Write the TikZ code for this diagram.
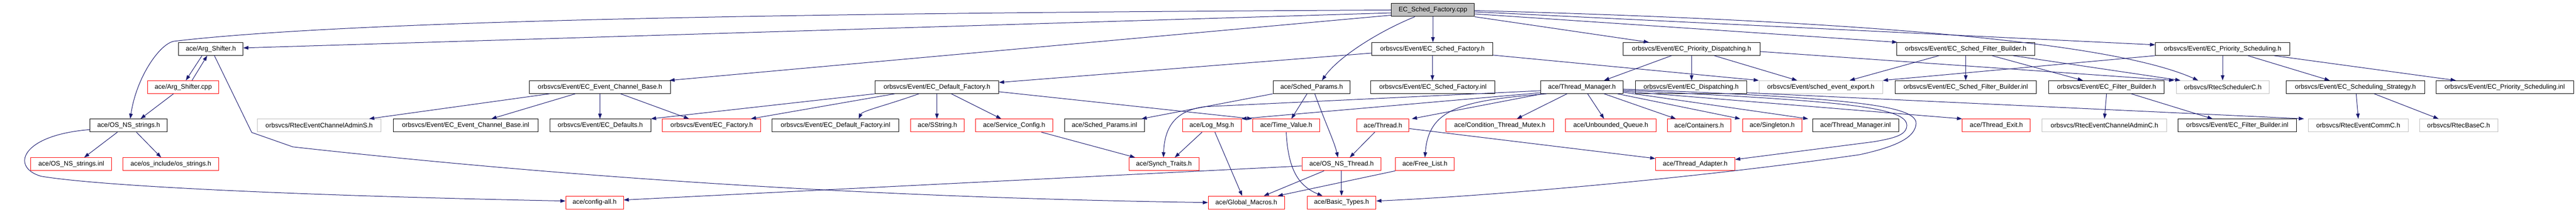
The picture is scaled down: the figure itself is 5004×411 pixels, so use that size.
\documentclass[tikz,border=0pt]{standalone}
\usepackage{fontspec}
\setmainfont{Liberation Sans}
\usetikzlibrary{arrows.meta}
\definecolor{edgeblue}{HTML}{191970}
\definecolor{extgray}{HTML}{BFBFBF}

\begin{document}
\begin{tikzpicture}
  [x=1pt, y=-1pt, font=\fontsize{12.7pt}{15pt}\selectfont,
  file/.style={rectangle, draw, line width=1pt, inner sep=0pt, minimum height=25pt},
  doc/.style={file},
  nodoc/.style={file, draw=red},
  ext/.style={file, draw=extgray},
  root/.style={file, fill=extgray},
  dep/.style={draw=edgeblue, line width=1pt, -{Triangle[length=10pt,width=7pt]}}]
  \useasboundingbox (0,0) rectangle (5004,411);

  \node[root, minimum width=161pt] (cpp) at (2783.5,19.5) {EC\_Sched\_Factory.cpp};

  \node[doc, minimum width=125pt] (argsh) at (409.5,95) {ace/Arg\_Shifter.h};
  \node[doc, minimum width=235pt] (schedfac) at (2782.5,95) {orbsvcs/Event/EC\_Sched\_Factory.h};
  \node[doc, minimum width=266pt] (priodisp) at (3286,95) {orbsvcs/Event/EC\_Priority\_Dispatching.h};
  \node[doc, minimum width=269pt] (schedfb) at (3818.5,95) {orbsvcs/Event/EC\_Sched\_Filter\_Builder.h};
  \node[doc, minimum width=261pt] (priosched) at (4317.5,95) {orbsvcs/Event/EC\_Priority\_Scheduling.h};

  \node[nodoc, minimum width=138pt] (argshcpp) at (356,169) {ace/Arg\_Shifter.cpp};
  \node[doc, minimum width=275pt] (ecbase) at (1165.5,169) {orbsvcs/Event/EC\_Event\_Channel\_Base.h};
  \node[doc, minimum width=240pt] (deffac) at (1820,169) {orbsvcs/Event/EC\_Default\_Factory.h};
  \node[doc, minimum width=150pt] (schedpar) at (2548,169) {ace/Sched\_Params.h};
  \node[doc, minimum width=241pt] (schedfacinl) at (2783.5,169) {orbsvcs/Event/EC\_Sched\_Factory.inl};
  \node[doc, minimum width=160pt] (thrmgr) at (3073,169) {ace/Thread\_Manager.h};
  \node[doc, minimum width=216pt] (ecdisp) at (3285,169) {orbsvcs/Event/EC\_Dispatching.h};
  \node[ext, minimum width=240pt] (schedexp) at (3537,169) {orbsvcs/Event/sched\_event\_export.h};
  \node[doc, minimum width=275pt] (schedfbinl) at (3818.5,169) {orbsvcs/Event/EC\_Sched\_Filter\_Builder.inl};
  \node[doc, minimum width=224pt] (filterb) at (4092,169) {orbsvcs/Event/EC\_Filter\_Builder.h};
  \node[ext, minimum width=180pt] (schedc) at (4318,169) {orbsvcs/RtecSchedulerC.h};
  \node[doc, minimum width=269pt] (strategy) at (4575.5,169) {orbsvcs/Event/EC\_Scheduling\_Strategy.h};
  \node[doc, minimum width=267pt] (priosinl) at (4865.5,169) {orbsvcs/Event/EC\_Priority\_Scheduling.inl};

  \node[doc, minimum width=150pt] (osstr) at (250,243.5) {ace/OS\_NS\_strings.h};
  \node[ext, minimum width=240pt] (admins) at (620,243.5) {orbsvcs/RtecEventChannelAdminS.h};
  \node[doc, minimum width=281pt] (ecbaseinl) at (904.5,243.5) {orbsvcs/Event/EC\_Event\_Channel\_Base.inl};
  \node[doc, minimum width=196pt] (defaults) at (1166,243.5) {orbsvcs/Event/EC\_Defaults.h};
  \node[nodoc, minimum width=191pt] (ecfac) at (1382.5,243.5) {orbsvcs/Event/EC\_Factory.h};
  \node[doc, minimum width=246pt] (deffacinl) at (1623,243.5) {orbsvcs/Event/EC\_Default\_Factory.inl};
  \node[nodoc, minimum width=104pt] (sstring) at (1821,243.5) {ace/SString.h};
  \node[nodoc, minimum width=150pt] (svcconf) at (1970,243.5) {ace/Service\_Config.h};
  \node[doc, minimum width=155pt] (schedparinl) at (2145.5,243.5) {ace/Sched\_Params.inl};
  \node[nodoc, minimum width=114pt] (logmsg) at (2354,243.5) {ace/Log\_Msg.h};
  \node[nodoc, minimum width=131pt] (timeval) at (2498.5,243.5) {ace/Time\_Value.h};
  \node[nodoc, minimum width=101pt] (thread) at (2686.5,243.5) {ace/Thread.h};
  \node[nodoc, minimum width=209pt] (condmtx) at (2913.5,243.5) {ace/Condition\_Thread\_Mutex.h};
  \node[nodoc, minimum width=176pt] (unbq) at (3129,243.5) {ace/Unbounded\_Queue.h};
  \node[nodoc, minimum width=123pt] (contain) at (3300.5,243.5) {ace/Containers.h};
  \node[nodoc, minimum width=115pt] (single) at (3442.5,243.5) {ace/Singleton.h};
  \node[doc, minimum width=167pt] (thrmgrinl) at (3604.5,243.5) {ace/Thread\_Manager.inl};
  \node[nodoc, minimum width=132pt] (threxit) at (3878,243.5) {ace/Thread\_Exit.h};
  \node[ext, minimum width=242pt] (adminc) at (4088,243.5) {orbsvcs/RtecEventChannelAdminC.h};
  \node[doc, minimum width=230pt] (filterbinl) at (4346,243.5) {orbsvcs/Event/EC\_Filter\_Builder.inl};
  \node[ext, minimum width=194pt] (commc) at (4581,243.5) {orbsvcs/RtecEventCommC.h};
  \node[ext, minimum width=152pt] (basec) at (4776,243.5) {orbsvcs/RtecBaseC.h};

  \node[nodoc, minimum width=157pt] (osstrinl) at (138.5,318.5) {ace/OS\_NS\_strings.inl};
  \node[nodoc, minimum width=186pt] (osinc) at (332,318.5) {ace/os\_include/os\_strings.h};
  \node[nodoc, minimum width=136pt] (synch) at (2261,318.5) {ace/Synch\_Traits.h};
  \node[nodoc, minimum width=154pt] (osthr) at (2606,318.5) {ace/OS\_NS\_Thread.h};
  \node[nodoc, minimum width=114pt] (freelist) at (2768,318.5) {ace/Free\_List.h};
  \node[nodoc, minimum width=154pt] (thradapt) at (3293,318.5) {ace/Thread\_Adapter.h};

  \node[nodoc, minimum width=112pt] (config) at (1155,393) {ace/config-all.h};
  \node[nodoc, minimum width=148pt] (globmac) at (2421,393) {ace/Global\_Macros.h};
  \node[nodoc, minimum width=134pt] (basict) at (2606,393) {ace/Basic\_Types.h};

  \draw[dep] ([yshift=-5.5pt]cpp.west) -- ([yshift=2pt]argsh.east);
  \draw[dep] (cpp.west) .. controls (1600,25) and (700,38) .. (338,80) .. controls (310,85) and (265,150) .. ([xshift=3pt]osstr.north);
  \draw[dep] ([yshift=-10pt]cpp.west) -- ([xshift=-3pt]ecbase.north east);
  \draw[dep] ([xshift=-35pt]cpp.south) .. controls (2680,60) and (2600,110) .. ([xshift=20pt]schedpar.north);
  \draw[dep] (cpp.south) -- (cpp.south |- schedfac.north);
  \draw[dep] (cpp.south east) -- ([xshift=-83pt]priodisp.north);
  \draw[dep] ([yshift=-7.5pt]cpp.east) -- ([xshift=2pt]schedfb.north west);
  \draw[dep] ([yshift=-3.5pt]cpp.east) -- ([yshift=8pt]priosched.west);
  \draw[dep] ([yshift=-1pt]cpp.east) .. controls (3600,40) and (4100,80) .. ([xshift=-48pt]schedc.north);

  \draw[dep] (schedfac.south) -- (schedfac.south |- schedfacinl.north);
  \draw[dep] ([yshift=-8pt]schedfac.west) -- ([yshift=9pt]deffac.east);
  \draw[dep] ([yshift=-12pt]schedfac.east) -- (schedexp.north west);
  \draw[dep] ([xshift=-39pt]priodisp.south) -- ([xshift=43pt]thrmgr.north);
  \draw[dep] (priodisp.south) -- (priodisp.south |- ecdisp.north);
  \draw[dep] ([xshift=44pt]priodisp.south) -- ([xshift=-46pt]schedexp.north);
  \draw[dep] ([yshift=-5pt]priodisp.east) -- ([xshift=-4pt]schedc.north west);
  \draw[dep] (schedfb.south) -- (schedfb.south |- schedfbinl.north);
  \draw[dep] ([xshift=51pt]schedfb.south) -- ([xshift=-46pt]filterb.north);
  \draw[dep] ([xshift=-52pt]schedfb.south) -- ([xshift=56pt]schedexp.north);
  \draw[dep] ([xshift=92pt]schedfb.south) -- ([xshift=8pt]schedc.north west);
  \draw[dep] (priosched.south) -- (priosched.south |- schedc.north);
  \draw[dep] ([xshift=49pt]priosched.south) -- ([xshift=-50pt]strategy.north);
  \draw[dep] ([xshift=100pt]priosched.south) -- ([xshift=-95pt]priosinl.north);
  \draw[dep] (priosched.south west) -- (schedexp.north east);

  \draw[dep] ([xshift=-17pt]argsh.south) -- ([xshift=5pt]argshcpp.north);
  \draw[dep] ([xshift=17pt]argshcpp.north) -- ([xshift=-7pt]argsh.south);
  \draw[dep] ([xshift=-19pt]argshcpp.south) -- ([xshift=23pt]osstr.north);
  \draw[dep] ([xshift=7pt]argsh.south) -- (489,257) -- (569,285) .. controls (1200,355) and (1800,385) .. (globmac.west);
  \draw[dep] ([xshift=-22pt]osstr.south) -- ([xshift=25pt]osstrinl.north);
  \draw[dep] ([xshift=15pt]osstr.south) -- ([xshift=-19pt]osinc.north);
  \draw[dep] ([yshift=-8pt]osstr.west) .. controls (40,262) and (20,325) .. (80,342) .. controls (200,362) and (600,380) .. ([yshift=3pt]config.west);
  \draw[dep] ([xshift=-98pt]ecbase.south) -- ([xshift=97pt]admins.north);
  \draw[dep] ([xshift=-48pt]ecbase.south) -- ([xshift=50pt]ecbaseinl.north);
  \draw[dep] (ecbase.south) -- (ecbase.south |- defaults.north);
  \draw[dep] ([xshift=40pt]ecbase.south) -- ([xshift=-44pt]ecfac.north);
  \draw[dep] (deffac.south west) -- (defaults.north east);
  \draw[dep] ([xshift=-82pt]deffac.south) -- ([xshift=76pt]ecfac.north);
  \draw[dep] ([xshift=-35pt]deffac.south) .. controls (1720,205) and (1675,215) .. ([xshift=45pt]deffacinl.north);
  \draw[dep] (deffac.south) -- (deffac.south |- sstring.north);
  \draw[dep] ([xshift=28pt]deffac.south) -- ([xshift=-25pt]svcconf.north);
  \draw[dep] ([yshift=-9pt]deffac.east) -- (timeval.north west);
  \draw[dep] ([xshift=53pt]svcconf.south) -- ([xshift=-56pt]synch.north);
  \draw[dep] (schedpar.south west) -- ([xshift=72pt]schedparinl.north);
  \draw[dep] ([xshift=-9pt]schedpar.south) -- ([xshift=10pt]timeval.north);
  \draw[dep] ([xshift=6pt]schedpar.south) .. controls (2575,240) and (2592,275) .. ([xshift=-7pt]osthr.north);

  \draw[dep] ([yshift=6pt]thrmgr.south west) -- (2340,207) .. controls (2280,215) and (2262,250) .. ([xshift=-1pt]synch.north);
  \draw[dep] ([yshift=2pt]thrmgr.south west) -- (logmsg.north east);
  \draw[dep] ([xshift=4pt]thrmgr.south west) -- ([xshift=5pt]thread.north east);
  \draw[dep] ([xshift=12pt]thrmgr.south west) .. controls (2840,195) and (2775,210) .. (freelist.north);
  \draw[dep] ([xshift=-29pt]thrmgr.south) -- ([xshift=33pt]condmtx.north);
  \draw[dep] ([xshift=11pt]thrmgr.south) -- ([xshift=-13pt]unbq.north);
  \draw[dep] ([xshift=43pt]thrmgr.south) -- ([xshift=-45pt]contain.north);
  \draw[dep] ([xshift=69pt]thrmgr.south) -- ([xshift=-4pt]single.north west);
  \draw[dep] ([yshift=3pt]thrmgr.south east) -- ([xshift=-8pt]thrmgrinl.north west);
  \draw[dep] ([yshift=5pt]thrmgr.south east) -- (threxit.north west);
  \draw[dep] ([yshift=7pt]thrmgr.south east) .. controls (3550,195) and (3704,205) .. (3704,243) .. controls (3704,262) and (3680,268) .. (3640,275) -- ([yshift=-4pt]thradapt.north east);
  \draw[dep] ([yshift=9pt]thrmgr.south east) .. controls (3600,190) and (3724,205) .. (3722,240) .. controls (3720,265) and (3690,283) .. (3613,300) .. controls (3300,345) and (2900,380) .. ([yshift=3pt]basict.east);

  \draw[dep] ([yshift=2pt]ecdisp.south east) -- ([xshift=-8pt]commc.north west);
  \draw[dep] (filterb.south) -- (adminc.north);
  \draw[dep] ([xshift=48pt]filterb.south) -- ([xshift=-48pt]filterbinl.north);
  \draw[dep] ([xshift=1.5pt]strategy.south) -- (commc.north);
  \draw[dep] ([xshift=36.5pt]strategy.south) -- ([xshift=-39pt]basec.north);
  \draw[dep] ([xshift=-19pt]logmsg.south) -- ([xshift=21pt]synch.north);
  \draw[dep] ([xshift=6pt]logmsg.south) -- ([xshift=-8pt]globmac.north);
  \draw[dep] (timeval.south) .. controls (2502,325) and (2520,360) .. ([xshift=-37pt]basict.north);
  \draw[dep] ([xshift=-16pt]thread.south) -- ([xshift=16pt]osthr.north);
  \draw[dep] ([yshift=-6pt]thread.east) -- ([yshift=-2pt]thradapt.north west);
  \draw[dep] (osthr.south) -- (basict.north);
  \draw[dep] ([xshift=-34pt]osthr.south) -- ([xshift=34pt]globmac.north);
  \draw[dep] ([yshift=-3.5pt]osthr.west) -- ([yshift=5pt]config.east);
  \draw[dep] (freelist.south west) -- ([xshift=61pt]globmac.north);
\end{tikzpicture}
\end{document}
